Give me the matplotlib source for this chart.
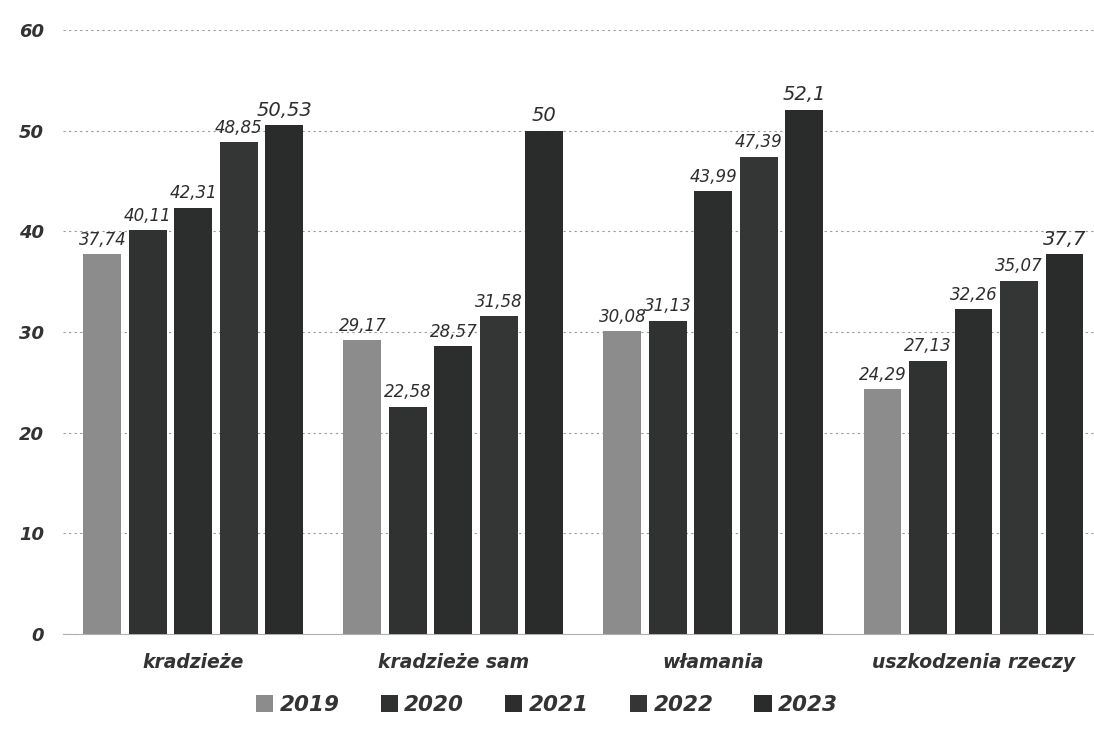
import matplotlib.pyplot as plt
import numpy as np

# dane z wykresu
categories = ['kradzieże', 'kradzieże sam', 'włamania', 'uszkodzenia rzeczy']
years = ['2019', '2020', '2021', '2022', '2023']
v2019 = [37.74, 29.17, 30.08, 24.29]
v2020 = [40.11, 22.58, 31.13, 27.13]
v2021 = [42.31, 28.57, 43.99, 32.26]
v2022 = [48.85, 31.58, 47.39, 35.07]
v2023 = [50.53, 50.00, 52.10, 37.70]
series = [v2019, v2020, v2021, v2022, v2023]

colors = ['#8c8c8c', '#303231', '#2c2e2d', '#343635', '#2a2c2b']

fig = plt.figure(figsize=(10.94, 7.42), dpi=100)
ax = fig.add_axes([0.058, 0.1456, 0.942, 0.814])

x = np.arange(len(categories))
w = 0.175
for i, (vals, col) in enumerate(zip(series, colors)):
    pos = x + (i - 2) * w
    bars = ax.bar(pos, vals, width=0.146, color=col, label=years[i], zorder=3)
    for b, v in zip(bars, vals):
        txt = f'{v:g}'.replace('.', ',')
        ax.annotate(txt, (b.get_x() + b.get_width() / 2, v), xytext=(0, 4),
                    textcoords='offset points', ha='center', va='bottom',
                    fontsize=12 if i < 4 else 14, style='italic',
                    color='#2e2e2e', zorder=4)

ax.set_ylim(0, 60)
ax.set_xlim(-0.5, 3.4635)
ax.set_yticks(range(0, 61, 10))
ax.yaxis.grid(True, linestyle=(0, (2, 3)), color='#9a9a9a', linewidth=0.8, zorder=0)
ax.set_xticks(x)
ax.set_xticklabels(categories, fontsize=13.5, style='italic', fontweight='bold', color='#333333')
for lab in ax.get_yticklabels():
    lab.set_fontsize(13)
    lab.set_fontstyle('italic')
    lab.set_fontweight('bold')
    lab.set_color('#333333')
ax.tick_params(axis='y', length=0, pad=14)
ax.tick_params(axis='x', length=0, pad=14)
for s in ['top', 'right', 'left']:
    ax.spines[s].set_visible(False)
ax.spines['bottom'].set_color('#b0b0b0')

leg = fig.legend(loc='lower center', bbox_to_anchor=(0.5, 0.01), ncol=5, frameon=False,
                 handlelength=0.8, handleheight=0.8, handletextpad=0.3, columnspacing=1.9,
                 prop={'size': 15.5, 'style': 'italic', 'weight': 'bold'})
for t in leg.get_texts():
    t.set_color('#333333')

fig.savefig('out.png', dpi=100)
